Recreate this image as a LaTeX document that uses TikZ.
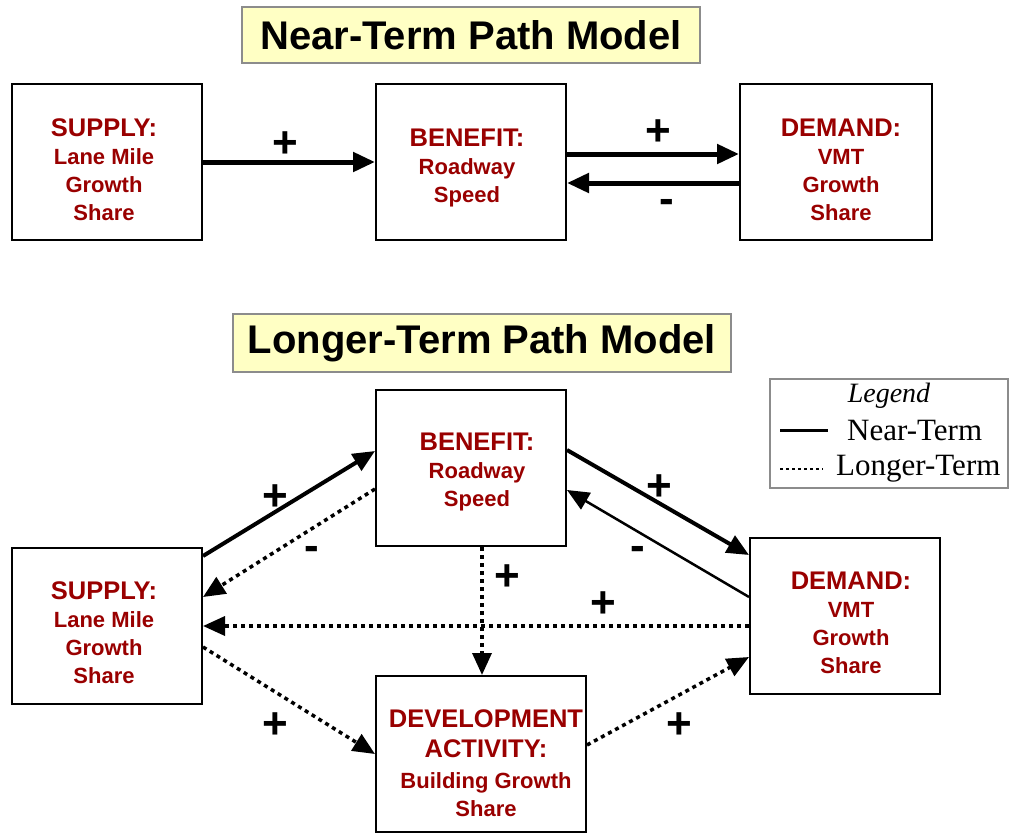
\documentclass[tikz,border=0pt]{standalone}
\usepackage{fontspec}
\setmainfont{Liberation Sans}
\newfontfamily\serifleg{Liberation Serif}
\usetikzlibrary{arrows.meta,calc}
\definecolor{dred}{HTML}{990000}
\definecolor{titlefill}{HTML}{FFFFC4}
\definecolor{tborder}{HTML}{8C8C8C}
\newcommand{\hd}[1]{{\fontsize{25.5}{28}\selectfont #1}}
\tikzset{
  titlebox/.style={draw=tborder,line width=1.5pt,fill=titlefill,inner sep=0pt,
    font=\bfseries\fontsize{40}{44}\selectfont},
  boxnode/.style={draw=black,line width=2pt,minimum width=190pt,minimum height=156pt,inner sep=0pt},
  boxtext/.style={inner sep=0pt,align=center,text=dred,font=\bfseries\fontsize{22}{28}\selectfont},
  sign/.style={font=\bfseries\fontsize{44}{46}\selectfont,inner sep=0pt},
  tip/.style={-{Triangle[length=22pt,width=19pt]}},
  nearthick/.style={tip,line width=5pt},
  near/.style={tip,line width=4pt},
  nearthin/.style={tip,line width=2.5pt},
  longer/.style={tip,line width=3.5pt,dash pattern=on 4pt off 4pt},
  legtext/.style={font=\serifleg\fontsize{31}{34}\selectfont,inner sep=0pt,anchor=west},
}
\begin{document}
\begin{tikzpicture}[x=1pt,y=-1pt]
\useasboundingbox (0,0) rectangle (1013,833);
% ---------- Near-term ----------
\node[titlebox,minimum width=458pt,minimum height=56pt] (t1) at (471,35) {Near-Term Path Model};
\node[boxnode] (sup1) at (107,162) {};
\node[boxnode] (ben1) at (471,162) {};
\node[boxnode,minimum width=192pt] (dem1) at (836,162) {};
\node[boxtext] (sup1t) at ([yshift=-8pt,xshift=-3pt]sup1.center) {\hd{SUPPLY:}\\Lane Mile\\Growth\\Share};
\node[boxtext] (ben1t) at ([yshift=-6pt,xshift=-4pt]ben1.center) {\hd{BENEFIT:}\\Roadway\\Speed};
\node[boxtext] (dem1t) at ([yshift=-8pt,xshift=5pt]dem1.center) {\hd{DEMAND:}\\VMT\\Growth\\Share};
\draw[nearthick] (sup1.east) -- (ben1.west);
\draw[nearthick] ([yshift=8pt]ben1.east) -- ([yshift=8pt]dem1.west);
\draw[nearthick] ([yshift=-21pt]dem1.west) -- ([yshift=-21pt]ben1.east);
\node[sign] (p1) at (285,145) {+};
\node[sign] (p2) at (658,133) {+};
\node[sign] (m1) at (667,206) {-};
% ---------- Longer-term ----------
\node[titlebox,minimum width=498pt,minimum height=58pt] (t2) at (482,343) {Longer-Term Path Model};
\node[boxnode] (ben) at (471,468) {};
\node[boxnode] (sup) at (107,626) {};
\node[boxnode] (dem) at (845,616) {};
\node[boxnode,minimum width=210pt] (dev) at (481,754) {};
\node[boxtext] (bent) at ([yshift=-4pt,xshift=6pt]ben.center) {\hd{BENEFIT:}\\Roadway\\Speed};
\node[boxtext] (supt) at ([yshift=-7pt,xshift=-3pt]sup.center) {\hd{SUPPLY:}\\Lane Mile\\Growth\\Share};
\node[boxtext] (demt) at ([yshift=-7pt,xshift=6pt]dem.center) {\hd{DEMAND:}\\VMT\\Growth\\Share};
\node[boxtext] (devt) at ([yshift=-9pt,xshift=5pt]dev.center) {\hd{DEVELOPMENT}\\[2pt]\hd{ACTIVITY:}\\[3pt]Building Growth\\Share};
% legend
\node[draw=tborder,line width=1.5pt,fill=white,minimum width=238pt,minimum height=109pt,inner sep=0pt] (leg) at (889,433.5) {};
\node[font=\serifleg\itshape\fontsize{28}{30}\selectfont,inner sep=0pt] (legt) at (889,396) {Legend};
\node[legtext] (legn) at (847,430) {Near-Term};
\node[legtext] (legl) at (836,469) {Longer-Term};
\coordinate (ln1) at (780,430);
\coordinate (ll1) at (780,469);
\draw[line width=3pt] (ln1) -- ([xshift=-19pt]legn.west);
\draw[line width=2.5pt,dash pattern=on 3pt off 3pt] (ll1) -- ([xshift=-13pt]legl.west);
% connectors
\draw[near] ([yshift=-9pt]sup.north east) -- ([yshift=17pt]ben.west);
\draw[longer] ([yshift=-21pt]ben.west) -- ([yshift=29pt]sup.east);
\draw[longer] ([xshift=1pt]dev.north |- ben.south) -- ([xshift=1pt]dev.north);
\draw[longer] (dem.west |- sup.east) -- (sup.east);
\draw[longer] ([yshift=-21pt]sup.east) -- (dev.west);
\draw[near] ([yshift=18pt]ben.east) -- ([yshift=-18pt]dem.north west);
\draw[nearthin] ([yshift=19pt]dem.west) -- ([yshift=-22pt]ben.east);
\draw[longer] ([yshift=9pt]dev.east) -- ([yshift=-41pt]dem.west);
% signs
\node[sign] (s1) at (275,498) {+};
\node[sign] (s2) at (312,553) {-};
\node[sign] (s3) at (507,578) {+};
\node[sign] (s4) at (603,605) {+};
\node[sign] (s5) at (275,726) {+};
\node[sign] (s6) at (659,488) {+};
\node[sign] (s7) at (638,553) {-};
\node[sign] (s8) at (679,726) {+};
\end{tikzpicture}
\end{document}
